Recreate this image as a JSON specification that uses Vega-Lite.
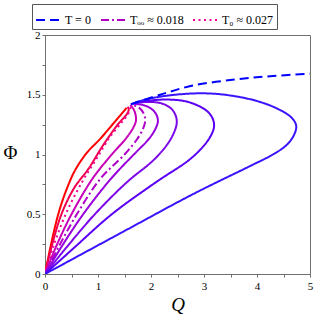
{
  "$schema": "https://vega.github.io/schema/vega-lite/v6.json",
  "autosize": "none",
  "width": 265,
  "height": 239,
  "padding": {"left": 45, "top": 35, "right": 6, "bottom": 42},
  "background": "white",
  "data": {"values": [
    {"s":"c1","o":0,"q":0,"p":0},{"s":"c1","o":1,"q":0.1,"p":0.22},{"s":"c1","o":2,"q":0.25,"p":0.5},{"s":"c1","o":3,"q":0.4,"p":0.7},{"s":"c1","o":4,"q":0.57,"p":0.87},{"s":"c1","o":5,"q":0.8,"p":1.02},{"s":"c1","o":6,"q":1.04,"p":1.13},{"s":"c1","o":7,"q":1.29,"p":1.26},{"s":"c1","o":8,"q":1.54,"p":1.39},
    {"s":"c2","o":0,"q":0,"p":0},{"s":"c2","o":1,"q":0.12,"p":0.22},{"s":"c2","o":2,"q":0.31,"p":0.5},{"s":"c2","o":3,"q":0.55,"p":0.72},{"s":"c2","o":4,"q":0.82,"p":0.88},{"s":"c2","o":5,"q":1.1,"p":1.08},{"s":"c2","o":6,"q":1.39,"p":1.26},{"s":"c2","o":7,"q":1.54,"p":1.335},{"s":"c2","o":8,"q":1.58,"p":1.375},{"s":"c2","o":9,"q":1.56,"p":1.40},
    {"s":"T₀ ≈ 0.027","o":0,"q":0,"p":0},{"s":"T₀ ≈ 0.027","o":1,"q":0.15,"p":0.22},{"s":"T₀ ≈ 0.027","o":2,"q":0.39,"p":0.5},{"s":"T₀ ≈ 0.027","o":3,"q":0.7,"p":0.77},{"s":"T₀ ≈ 0.027","o":4,"q":0.98,"p":0.97},{"s":"T₀ ≈ 0.027","o":5,"q":1.23,"p":1.15},{"s":"T₀ ≈ 0.027","o":6,"q":1.45,"p":1.27},{"s":"T₀ ≈ 0.027","o":7,"q":1.57,"p":1.34},{"s":"T₀ ≈ 0.027","o":8,"q":1.61,"p":1.385},{"s":"T₀ ≈ 0.027","o":9,"q":1.6,"p":1.41},
    {"s":"c4","o":0,"q":0,"p":0},{"s":"c4","o":1,"q":0.2,"p":0.22},{"s":"c4","o":2,"q":0.5,"p":0.5},{"s":"c4","o":3,"q":0.9,"p":0.8},{"s":"c4","o":4,"q":1.26,"p":1.0},{"s":"c4","o":5,"q":1.52,"p":1.13},{"s":"c4","o":6,"q":1.66,"p":1.22},{"s":"c4","o":7,"q":1.715,"p":1.28},{"s":"c4","o":8,"q":1.71,"p":1.33},{"s":"c4","o":9,"q":1.67,"p":1.38},{"s":"c4","o":10,"q":1.61,"p":1.415},
    {"s":"Tₒₒ ≈ 0.018","o":0,"q":0,"p":0},{"s":"Tₒₒ ≈ 0.018","o":1,"q":0.25,"p":0.22},{"s":"Tₒₒ ≈ 0.018","o":2,"q":0.6,"p":0.5},{"s":"Tₒₒ ≈ 0.018","o":3,"q":1.05,"p":0.8},{"s":"Tₒₒ ≈ 0.018","o":4,"q":1.5,"p":1.0},{"s":"Tₒₒ ≈ 0.018","o":5,"q":1.74,"p":1.13},{"s":"Tₒₒ ≈ 0.018","o":6,"q":1.855,"p":1.22},{"s":"Tₒₒ ≈ 0.018","o":7,"q":1.89,"p":1.285},{"s":"Tₒₒ ≈ 0.018","o":8,"q":1.865,"p":1.34},{"s":"Tₒₒ ≈ 0.018","o":9,"q":1.78,"p":1.39},{"s":"Tₒₒ ≈ 0.018","o":10,"q":1.63,"p":1.42},
    {"s":"c6","o":0,"q":0,"p":0},{"s":"c6","o":1,"q":0.3,"p":0.22},{"s":"c6","o":2,"q":0.72,"p":0.5},{"s":"c6","o":3,"q":1.25,"p":0.8},{"s":"c6","o":4,"q":1.72,"p":1.02},{"s":"c6","o":5,"q":1.96,"p":1.13},{"s":"c6","o":6,"q":2.09,"p":1.22},{"s":"c6","o":7,"q":2.13,"p":1.28},{"s":"c6","o":8,"q":2.1,"p":1.335},{"s":"c6","o":9,"q":2.0,"p":1.385},{"s":"c6","o":10,"q":1.84,"p":1.415},{"s":"c6","o":11,"q":1.65,"p":1.425},
    {"s":"c7","o":0,"q":0,"p":0},{"s":"c7","o":1,"q":0.4,"p":0.22},{"s":"c7","o":2,"q":0.94,"p":0.5},{"s":"c7","o":3,"q":1.55,"p":0.77},{"s":"c7","o":4,"q":2.04,"p":0.95},{"s":"c7","o":5,"q":2.3,"p":1.08},{"s":"c7","o":6,"q":2.43,"p":1.18},{"s":"c7","o":7,"q":2.485,"p":1.26},{"s":"c7","o":8,"q":2.47,"p":1.32},{"s":"c7","o":9,"q":2.39,"p":1.38},{"s":"c7","o":10,"q":2.22,"p":1.425},{"s":"c7","o":11,"q":1.98,"p":1.44},{"s":"c7","o":12,"q":1.67,"p":1.43},
    {"s":"c8","o":0,"q":0,"p":0},{"s":"c8","o":1,"q":0.55,"p":0.22},{"s":"c8","o":2,"q":1.26,"p":0.5},{"s":"c8","o":3,"q":2.1,"p":0.77},{"s":"c8","o":4,"q":2.72,"p":0.955},{"s":"c8","o":5,"q":2.99,"p":1.07},{"s":"c8","o":6,"q":3.12,"p":1.15},{"s":"c8","o":7,"q":3.185,"p":1.22},{"s":"c8","o":8,"q":3.18,"p":1.28},{"s":"c8","o":9,"q":3.1,"p":1.345},{"s":"c8","o":10,"q":2.93,"p":1.4},{"s":"c8","o":11,"q":2.65,"p":1.445},{"s":"c8","o":12,"q":2.3,"p":1.46},{"s":"c8","o":13,"q":1.95,"p":1.45},{"s":"c8","o":14,"q":1.69,"p":1.43},
    {"s":"c9","o":0,"q":0,"p":0},{"s":"c9","o":1,"q":1.5,"p":0.36},{"s":"c9","o":2,"q":2.8,"p":0.67},{"s":"c9","o":3,"q":3.9,"p":0.91},{"s":"c9","o":4,"q":4.3,"p":1.0},{"s":"c9","o":5,"q":4.56,"p":1.08},{"s":"c9","o":6,"q":4.7,"p":1.165},{"s":"c9","o":7,"q":4.74,"p":1.24},{"s":"c9","o":8,"q":4.66,"p":1.305},{"s":"c9","o":9,"q":4.4,"p":1.38},{"s":"c9","o":10,"q":3.98,"p":1.45},{"s":"c9","o":11,"q":3.43,"p":1.498},{"s":"c9","o":12,"q":2.99,"p":1.512},{"s":"c9","o":13,"q":2.55,"p":1.504},{"s":"c9","o":14,"q":2.17,"p":1.484},{"s":"c9","o":15,"q":1.9,"p":1.46},{"s":"c9","o":16,"q":1.7,"p":1.435},
    {"s":"T = 0","o":0,"q":1.62,"p":1.42},{"s":"T = 0","o":1,"q":2.17,"p":1.5},{"s":"T = 0","o":2,"q":2.79,"p":1.577},{"s":"T = 0","o":3,"q":3.62,"p":1.629},{"s":"T = 0","o":4,"q":4.3,"p":1.657},{"s":"T = 0","o":5,"q":5.0,"p":1.676}
  ]},
  "mark": {"type": "line", "strokeWidth": 2, "interpolate": "catmull-rom", "clip": true},
  "encoding": {
    "x": {"field": "q", "type": "quantitative",
      "scale": {"domain": [0, 5], "nice": false},
      "axis": {"title": "Q", "titleFont": "Liberation Serif, serif", "titleFontStyle": "italic", "titleFontWeight": "normal", "titleFontSize": 19, "titleColor": "black", "titlePadding": 4,
        "values": [0,0.5,1,1.5,2,2.5,3,3.5,4,4.5,5], "labelExpr": "datum.value % 1 == 0 ? '' + datum.value : ''",
        "grid": false, "tickSize": 3, "tickColor": "#707070", "domainColor": "#707070", "labelFont": "Liberation Serif, serif", "labelFontSize": 11, "labelColor": "black", "labelPadding": 3, "labelFlush": false}},
    "y": {"field": "p", "type": "quantitative",
      "scale": {"domain": [0, 2], "nice": false},
      "axis": {"title": "Φ", "titleFont": "Liberation Serif, serif", "titleFontWeight": "normal", "titleFontSize": 19, "titleColor": "black", "titleAngle": 0, "titleAlign": "center", "titleBaseline": "middle", "titleX": -35, "titleY": 117,
        "values": [0,0.25,0.5,0.75,1,1.25,1.5,1.75,2], "labelExpr": "datum.value % 0.5 == 0 ? '' + datum.value : ''",
        "grid": false, "tickSize": 3, "tickColor": "#707070", "domainColor": "#707070", "labelFont": "Liberation Serif, serif", "labelFontSize": 11, "labelColor": "black", "labelPadding": 2, "labelFlush": false}},
    "order": {"field": "o", "type": "quantitative"},
    "color": {"field": "s", "type": "nominal",
      "scale": {"domain": ["T = 0","Tₒₒ ≈ 0.018","T₀ ≈ 0.027","c1","c2","c4","c6","c7","c8","c9"],
        "range": ["#0000ff","#b000c8","#ee0098","#ff0000","#f2004e","#c800b8","#9800dc","#7c08ea","#5a00f6","#3a14ff"]},
      "legend": {"values": ["T = 0","Tₒₒ ≈ 0.018","T₀ ≈ 0.027"]}},
    "strokeDash": {"field": "s", "type": "nominal",
      "scale": {"domain": ["T = 0","Tₒₒ ≈ 0.018","T₀ ≈ 0.027","c1","c2","c4","c6","c7","c8","c9"],
        "range": [[9,5],[8,3,2,3],[2,3.5],[1,0],[1,0],[1,0],[1,0],[1,0],[1,0],[1,0]]},
      "legend": {"values": ["T = 0","Tₒₒ ≈ 0.018","T₀ ≈ 0.027"]}}
  },
  "config": {
    "font": "Liberation Serif, serif",
    "view": {"stroke": "#707070", "strokeWidth": 1},
    "legend": {
      "title": null, "orient": "none", "legendX": -13, "legendY": -31, "direction": "horizontal",
      "symbolType": "stroke", "symbolSize": 576, "symbolStrokeWidth": 2,
      "labelFont": "Liberation Serif, serif", "labelFontSize": 12, "labelColor": "black", "labelOffset": 4,
      "columnPadding": 5, "padding": 3, "strokeColor": "#555555", "fillColor": "white",
      "symbolOffset": 0
    }
  }
}
